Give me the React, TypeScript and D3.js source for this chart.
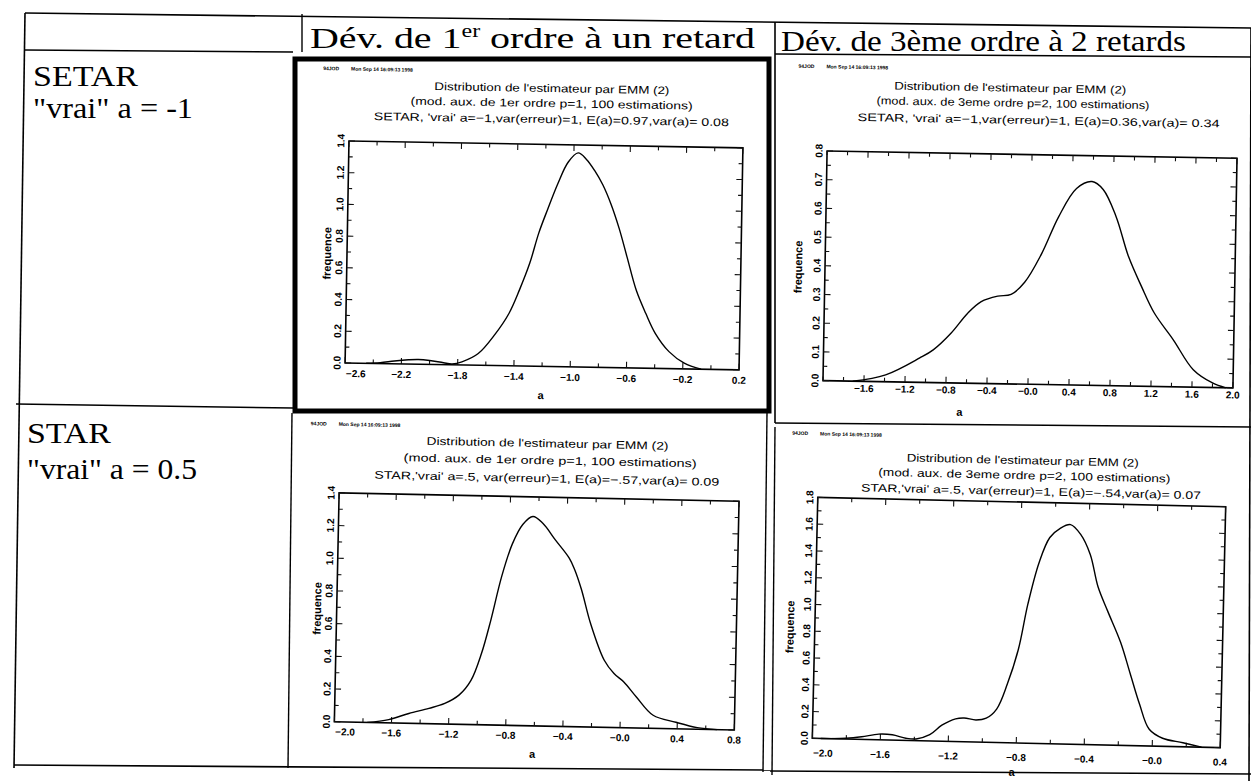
import React, { useEffect } from "react";
import * as d3 from "d3";

// ---------------- data ----------------
const rowLabels = ["SETAR", "STAR"];
const rowSubLabels = ['"vrai" a = -1', '"vrai" a = 0.5'];
const colHeader1 = ["Dév. de 1", "er", " ordre à un retard"];
const colHeader2 = "Dév. de 3ème ordre à 2 retards";

const titleMain = "Distribution de l'estimateur par EMM (2)";
const titlesSetar1 = [titleMain, "(mod. aux. de 1er ordre p=1, 100 estimations)", "SETAR, 'vrai' a=−1,var(erreur)=1, E(a)=0.97,var(a)= 0.08"];
const titlesSetar3 = [titleMain, "(mod. aux. de 3eme ordre p=2, 100 estimations)", "SETAR, 'vrai' a=−1,var(erreur)=1, E(a)=0.36,var(a)= 0.34"];
const titlesStar1 = [titleMain, "(mod. aux. de 1er ordre p=1, 100 estimations)", "STAR,'vrai' a=.5, var(erreur)=1, E(a)=−.57,var(a)= 0.09"];
const titlesStar3 = [titleMain, "(mod. aux. de 3eme ordre p=2, 100 estimations)", "STAR,'vrai' a=.5, var(erreur)=1, E(a)=−.54,var(a)= 0.07"];
const stampTexts = ["94JOD", "Mon Sep 14 16:09:13 1998"];
const yAxisTitle = "frequence";
const xAxisTitle = "a";

// SETAR, 1st order
const aSetar1 = [-2.45, -2.35, -2.25, -2.15, -2.08, -2.0, -1.9, -1.84, -1.77, -1.655, -1.536, -1.442, -1.37, -1.3, -1.24, -1.18, -1.11, -1.04, -0.97, -0.91, -0.85, -0.79, -0.73, -0.67, -0.61, -0.54, -0.47, -0.4, -0.3, -0.19, -0.07];
const fSetar1 = [0, 0.006, 0.018, 0.027, 0.03, 0.025, 0.012, 0.006, 0.02, 0.074, 0.2, 0.33, 0.48, 0.65, 0.84, 0.99, 1.155, 1.29, 1.35, 1.31, 1.24, 1.15, 1.03, 0.88, 0.7, 0.49, 0.346, 0.221, 0.107, 0.036, 0];
const xLabelsSetar1 = ["−2.6", "−2.2", "−1.8", "−1.4", "−1.0", "−0.6", "−0.2", "0.2"];
const yLabelsSetar1 = ["0.0", "0.2", "0.4", "0.6", "0.8", "1.0", "1.2", "1.4"];

// SETAR, 3rd order
const aSetar3 = [-1.71, -1.39, -1.06, -0.93, -0.76, -0.6, -0.47, -0.31, -0.18, -0.05, 0.11, 0.27, 0.44, 0.59, 0.7, 0.83, 0.96, 1.09, 1.22, 1.41, 1.61, 1.8, 1.93];
const fSetar3 = [0, 0.024, 0.085, 0.114, 0.173, 0.244, 0.285, 0.305, 0.312, 0.355, 0.455, 0.585, 0.685, 0.71, 0.683, 0.59, 0.45, 0.348, 0.256, 0.164, 0.061, 0.016, 0];
const xLabelsSetar3 = ["−1.6", "−1.2", "−0.8", "−0.4", "−0.0", "0.4", "0.8", "1.2", "1.6", "2.0"];
const yLabelsSetar3 = ["0.0", "0.1", "0.2", "0.3", "0.4", "0.5", "0.6", "0.7", "0.8"];

// STAR, 1st order
const aStar1 = [-1.77, -1.62, -1.48, -1.34, -1.23, -1.13, -1.05, -0.98, -0.92, -0.85, -0.78, -0.71, -0.64, -0.57, -0.48, -0.38, -0.34, -0.29, -0.22, -0.12, -0.05, 0.02, 0.11, 0.23, 0.39, 0.54, 0.68];
const fStar1 = [0, 0.02, 0.06, 0.094, 0.126, 0.18, 0.27, 0.437, 0.64, 0.91, 1.11, 1.23, 1.28, 1.24, 1.14, 1.03, 0.96, 0.84, 0.63, 0.41, 0.33, 0.28, 0.19, 0.08, 0.04, 0.01, 0];
const xLabelsStar1 = ["−2.0", "−1.6", "−1.2", "−0.8", "−0.4", "−0.0", "0.4", "0.8"];
const yLabelsStar1 = ["0.0", "0.2", "0.4", "0.6", "0.8", "1.0", "1.2", "1.4"];

// STAR, 3rd order
const aStar3 = [-1.95, -1.8, -1.71, -1.61, -1.53, -1.45, -1.39, -1.31, -1.24, -1.16, -1.11, -1.04, -0.98, -0.92, -0.86, -0.8, -0.75, -0.69, -0.63, -0.57, -0.51, -0.45, -0.39, -0.34, -0.28, -0.2, -0.14, -0.08, -0.02, 0.06, 0.18, 0.29];
const fStar3 = [0, 0.006, 0.02, 0.043, 0.04, 0.017, 0.013, 0.047, 0.12, 0.17, 0.178, 0.165, 0.18, 0.25, 0.44, 0.7, 1.04, 1.35, 1.54, 1.61, 1.64, 1.57, 1.42, 1.18, 1.0, 0.77, 0.54, 0.31, 0.125, 0.06, 0.03, 0];
const xLabelsStar3 = ["−2.0", "−1.6", "−1.2", "−0.8", "−0.4", "−0.0", "0.4"];
const yLabelsStar3 = ["0.0", "0.2", "0.4", "0.6", "0.8", "1.0", "1.2", "1.4", "1.6", "1.8"];

// ---------------- layout ----------------
interface PanelSpec {
  a: number[];
  f: number[];
  xLabels: string[];
  yLabels: string[];
  titles: string[];
  xDomain: [number, number];
  yDomain: [number, number];
  xMinor: number;
  yMinor: number;
  x0: number;
  x1: number;
  yTop: number;
  yBot: number;
  angle: number;
  titlePos: [number, number, number][];
  stamp: [number, number];
  freq: [number, number];
  aLab: [number, number];
  xLabOff: number;
}

const panels: PanelSpec[] = [
  {
    a: aSetar1, f: fSetar1, xLabels: xLabelsSetar1, yLabels: yLabelsSetar1, titles: titlesSetar1,
    xDomain: [-2.6, 0.2], yDomain: [0, 1.4], xMinor: 0.2, yMinor: 0.1,
    x0: 347, x1: 741, yTop: 144.4, yBot: 366.4, angle: 1.0,
    titlePos: [[549, 92, 235], [549, 107, 282], [549, 123, 355]],
    stamp: [320, 74], freq: [327, 257], aLab: [543, 399], xLabOff: 14,
  },
  {
    a: aSetar3, f: fSetar3, xLabels: xLabelsSetar3, yLabels: yLabelsSetar3, titles: titlesSetar3,
    xDomain: [-2.0, 2.0], yDomain: [0, 0.8], xMinor: 0.2, yMinor: 0.05,
    x0: 825, x1: 1235, yTop: 154.6, yBot: 384.3, angle: 1.02,
    titlePos: [[1007, 92, 232], [1010, 107, 273], [1036, 124, 362]],
    stamp: [795, 72], freq: [798, 271], aLab: [962, 417], xLabOff: 10.5,
  },
  {
    a: aStar1, f: fStar1, xLabels: xLabelsStar1, yLabels: yLabelsStar1, titles: titlesStar1,
    xDomain: [-2.0, 0.8], yDomain: [0, 1.4], xMinor: 0.2, yMinor: 0.1,
    x0: 336.7, x1: 736.7, yTop: 497, yBot: 725.9, angle: 1.19,
    titlePos: [[544, 447, 242], [547, 464, 293], [544, 482, 345]],
    stamp: [307, 430], freq: [317, 613], aLab: [535, 758], xLabOff: 13.5,
  },
  {
    a: aStar3, f: fStar3, xLabels: xLabelsStar3, yLabels: yLabelsStar3, titles: titlesStar3,
    xDomain: [-2.0, 0.4], yDomain: [0, 1.8], xMinor: 0.2, yMinor: 0.1,
    x0: 815, x1: 1223, yTop: 502, yBot: 743, angle: 1.3,
    titlePos: [[1019, 464, 232], [1021, 479, 292], [1028, 495, 340]],
    stamp: [788, 440], freq: [790, 632], aLab: [1015, 776], xLabOff: 18,
  },
];

const SANS = "'Liberation Sans', Arial, Helvetica, sans-serif";
const SERIF = "'Liberation Serif', 'Times New Roman', Times, serif";

const parseLabel = (s: string) => parseFloat(s.replace("−", "-"));

function Panel({ p }: { p: PanelSpec }) {
  const x = d3.scaleLinear().domain(p.xDomain).range([p.x0, p.x1]);
  const y = d3.scaleLinear().domain(p.yDomain).range([p.yBot, p.yTop]);
  const pts: [number, number][] = p.a.map((v, i) => [v, p.f[i]]);
  const path =
    d3
      .line<[number, number]>()
      .x((d) => x(d[0]))
      .y((d) => y(d[1]))
      .curve(d3.curveCatmullRom.alpha(0.5))(pts) || "";
  const xVals = p.xLabels.map(parseLabel);
  const yVals = p.yLabels.map(parseLabel);
  const nx = Math.round((p.xDomain[1] - p.xDomain[0]) / p.xMinor);
  const ny = Math.round((p.yDomain[1] - p.yDomain[0]) / p.yMinor);
  const xTicks = d3.range(nx + 1).map((i) => p.xDomain[0] + i * p.xMinor);
  const yTicks = d3.range(ny + 1).map((i) => p.yDomain[0] + i * p.yMinor);
  const isMajor = (v: number, arr: number[]) => arr.some((m) => Math.abs(m - v) < 1e-6);
  const cx = (p.x0 + p.x1) / 2;
  const cy = (p.yTop + p.yBot) / 2;
  const tickCol = "#111";

  return (
    <g transform={`rotate(${p.angle} ${cx} ${cy})`}>
      <text x={p.stamp[0]} y={p.stamp[1]} fontFamily={SANS} fontSize={5} fontWeight="bold" fill="#000">
        {stampTexts[0]}
        <tspan dx={12}>{stampTexts[1]}</tspan>
      </text>
      {p.titles.map((t, i) => (
        <text
          key={i}
          x={p.titlePos[i][0]}
          y={p.titlePos[i][1]}
          textAnchor="middle"
          fontFamily={SANS}
          fontSize={11}
          textLength={p.titlePos[i][2]}
          lengthAdjust="spacingAndGlyphs"
          fill="#000"
        >
          {t}
        </text>
      ))}
      <rect x={p.x0} y={p.yTop} width={p.x1 - p.x0} height={p.yBot - p.yTop} fill="none" stroke="#000" strokeWidth={1.6} />
      {xTicks.map((v, i) => {
        const len = isMajor(v, xVals) ? 6 : 4;
        const xx = x(v);
        return (
          <g key={"xt" + i} stroke={tickCol} strokeWidth={1.1}>
            <line x1={xx} x2={xx} y1={p.yBot} y2={p.yBot - len} />
            <line x1={xx} x2={xx} y1={p.yTop} y2={p.yTop + len} />
          </g>
        );
      })}
      {yTicks.map((v, i) => {
        const len = isMajor(v, yVals) ? 6 : 4;
        const yy = y(v);
        return (
          <g key={"yt" + i} stroke={tickCol} strokeWidth={1.1}>
            <line x1={p.x0} x2={p.x0 + len} y1={yy} y2={yy} />
            <line x1={p.x1} x2={p.x1 - len} y1={yy} y2={yy} />
          </g>
        );
      })}
      {p.xLabels.map((lab, i) => {
        const v = xVals[i];
        const xx = x(v);
        const atLeft = Math.abs(xx - p.x0) < 0.5;
        return (
          <text
            key={"xl" + i}
            x={atLeft ? p.x0 + 1 : xx}
            y={p.yBot + p.xLabOff}
            textAnchor={atLeft ? "start" : "middle"}
            fontFamily={SANS}
            fontSize={10}
            fontWeight="bold"
            fill="#000"
          >
            {lab}
          </text>
        );
      })}
      {p.yLabels.map((lab, i) => {
        const yy = y(yVals[i]);
        const bx = p.x0 - 4.5;
        return (
          <text
            key={"yl" + i}
            x={bx}
            y={yy}
            transform={`rotate(-90 ${bx} ${yy})`}
            textAnchor="middle"
            fontFamily={SANS}
            fontSize={10}
            fontWeight="bold"
            fill="#000"
          >
            {lab}
          </text>
        );
      })}
      <text
        x={p.freq[0] + 4}
        y={p.freq[1]}
        transform={`rotate(-90 ${p.freq[0] + 4} ${p.freq[1]})`}
        textAnchor="middle"
        fontFamily={SANS}
        fontSize={11}
        fontWeight="bold"
        fill="#000"
      >
        {yAxisTitle}
      </text>
      <text x={p.aLab[0]} y={p.aLab[1]} textAnchor="middle" fontFamily={SANS} fontSize={11} fontWeight="bold" fill="#000">
        {xAxisTitle}
      </text>
      <path d={path} fill="none" stroke="#000" strokeWidth={1.4} strokeLinejoin="round" />
    </g>
  );
}

// table ruling (scan geometry)
const tableLines: [number, number, number, number, number][] = [
  [25, 13, 1251, 28, 1.6],
  [25, 13, 14, 768, 1.6],
  [302, 14, 302, 52, 1.4],
  [25, 50, 293, 52, 1.6],
  [775, 22, 775, 423, 1.6],
  [775, 54, 1251, 57, 1.6],
  [16, 404, 293, 408, 1.6],
  [775, 423, 1251, 427, 1.6],
  [292, 413, 288, 768, 1.4],
  [767, 413, 763, 772, 1.4],
  [775, 427, 772, 775, 1.4],
  [14, 765, 770, 770, 1.6],
  [770, 771, 1251, 774, 1.6],
  [1251, 28, 1249, 781, 1.6],
];

export default function App() {
  useEffect(() => {
    document.body.style.margin = "0";
  }, []);
  return (
    <svg
      width={1251}
      height={781}
      viewBox="0 0 1251 781"
      style={{ position: "absolute", left: 0, top: 0, display: "block", background: "#fff" }}
    >
      <rect x={0} y={0} width={1251} height={781} fill="#fff" />
      {tableLines.map((l, i) => (
        <line key={i} x1={l[0]} y1={l[1]} x2={l[2]} y2={l[3]} stroke="#000" strokeWidth={l[4]} />
      ))}
      <rect x={295} y={59} width={474} height={352} fill="none" stroke="#000" strokeWidth={5} />

      <text x={310} y={48} fontFamily={SERIF} fontSize={30} textLength={445} lengthAdjust="spacingAndGlyphs" fill="#000">
        {colHeader1[0]}
        <tspan dy={-11} fontSize={18}>{colHeader1[1]}</tspan>
        <tspan dy={11}>{colHeader1[2]}</tspan>
      </text>
      <text x={781} y={51} fontFamily={SERIF} fontSize={30} textLength={405} lengthAdjust="spacingAndGlyphs" fill="#000">
        {colHeader2}
      </text>

      <text x={33} y={86} fontFamily={SERIF} fontSize={29} textLength={105} lengthAdjust="spacingAndGlyphs" fill="#000">
        {rowLabels[0]}
      </text>
      <text x={33} y={118} fontFamily={SERIF} fontSize={29} textLength={160} lengthAdjust="spacingAndGlyphs" fill="#000">
        {rowSubLabels[0]}
      </text>
      <text x={27} y={443} fontFamily={SERIF} fontSize={29} textLength={84} lengthAdjust="spacingAndGlyphs" fill="#000">
        {rowLabels[1]}
      </text>
      <text x={27} y={479} fontFamily={SERIF} fontSize={29} textLength={170} lengthAdjust="spacingAndGlyphs" fill="#000">
        {rowSubLabels[1]}
      </text>

      {panels.map((p, i) => (
        <Panel key={i} p={p} />
      ))}
    </svg>
  );
}
